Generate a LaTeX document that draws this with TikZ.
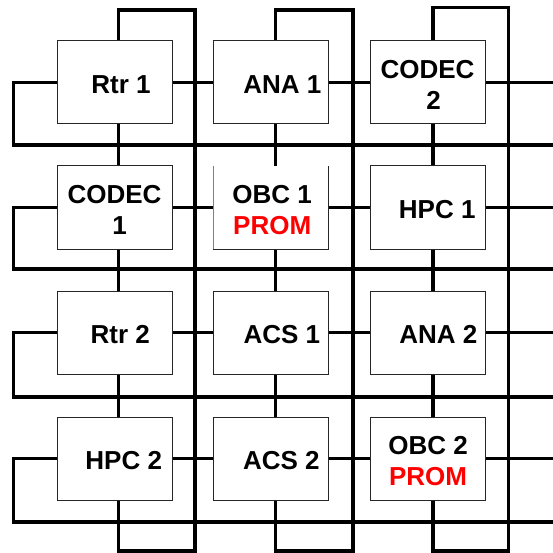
\documentclass[tikz,border=0pt]{standalone}
\usepackage{fontspec}
\setmainfont{Liberation Sans}
\usetikzlibrary{calc}
\pgfdeclarelayer{bg}
\pgfsetlayers{bg,main}
\definecolor{promred}{RGB}{255,0,0}
\begin{document}
\begin{tikzpicture}[x=1pt,y=-1pt,
  wire/.style={line width=3.6pt,line join=miter,draw=black},
  boxnode/.style={rectangle,draw=black!85,line width=1pt,fill=white,
    minimum width=115pt,minimum height=83pt,inner sep=0pt,outer sep=0pt},
  lbl/.style={font=\fontsize{26}{31}\selectfont\bfseries,align=center,
    inner sep=0pt,text=black},
  prom/.style={text=promred}]
\useasboundingbox (0,0) rectangle (553,553);
\begin{pgfonlayer}{bg}
\fill[white] (0,0) rectangle (553,553);
\end{pgfonlayer}

% boxes
\node[boxnode] (b11) at (114.5,82.5) {};
\node[boxnode] (b12) at (270.5,82.5) {};
\node[boxnode] (b13) at (427.5,82.5) {};
\node[boxnode] (b21) at (114.5,207.5) {};
\node[boxnode,draw=none] (b22) at (270.5,207.5) {};
\node[boxnode] (b23) at (427.5,207.5) {};
\node[boxnode] (b31) at (114.5,332.5) {};
\node[boxnode] (b32) at (270.5,332.5) {};
\node[boxnode] (b33) at (427.5,332.5) {};
\node[boxnode] (b41) at (114.5,458.5) {};
\node[boxnode] (b42) at (270.5,458.5) {};
\node[boxnode] (b43) at (427.5,458.5) {};
% OBC 1 frame: no top edge, lighter left edge
\draw[black!50,line width=0.9pt] (b22.north west) -- (b22.south west);
\draw[black!85,line width=1pt] (b22.south west) -- (b22.south east) -- (b22.north east);

% labels
\node[lbl] (t11) at ($(b11.center)+(6.5,2.2)$) {Rtr 1};
\node[lbl] (t12) at ($(b12.center)+(11.8,2.2)$) {ANA 1};
\node[lbl] (t13) at ($(b13.center)+(0,2.2)$) {CODEC\\\hspace*{12pt}2};
\node[lbl] (t21) at ($(b21.center)+(0,2.2)$) {CODEC\\\hspace*{10.4pt}1};
\node[lbl] (t22) at ($(b22.center)+(1.7,2.2)$) {OBC 1\\\textcolor{promred}{PROM}};
\node[lbl] (t23) at ($(b23.center)+(9.7,2.2)$) {HPC 1};
\node[lbl] (t31) at ($(b31.center)+(5.8,2.2)$) {Rtr 2};
\node[lbl] (t32) at ($(b32.center)+(11.3,2.2)$) {ACS 1};
\node[lbl] (t33) at ($(b33.center)+(10.8,2.2)$) {ANA 2};
\node[lbl] (t41) at ($(b41.center)+(9.2,2.2)$) {HPC 2};
\node[lbl] (t42) at ($(b42.center)+(10.8,2.2)$) {ACS 2};
\node[lbl] (t43) at ($(b43.center)+(0.5,2.2)$) {OBC 2\\\textcolor{promred}{PROM}};

% guide coordinates
\coordinate (v1) at (118.5,0);
\coordinate (v2) at (275.5,0);
\coordinate (v3) at (433,0);
\coordinate (w1) at (195,0);
\coordinate (w2) at (353,0);
\coordinate (w3) at (508.5,0);
\coordinate (top1) at (0,10);
\coordinate (top2) at (0,10);
\coordinate (top3) at (0,7.7);
\coordinate (bot) at (0,551.2);
\coordinate (lx) at (13.5,0);
\coordinate (rx) at (553,0);
\coordinate (low1) at (0,145);
\coordinate (low2) at (0,268.7);
\coordinate (low3) at (0,396.7);
\coordinate (low4) at (0,521.7);

\begin{pgfonlayer}{bg}
% columns
\foreach \c in {1,2,3}{
  \draw[wire] (b1\c.north -| v\c) -- (v\c |- top\c) -- (w\c |- top\c)
    -- (w\c |- bot) -- (v\c |- bot) -- (b4\c.south -| v\c);
  \draw[wire] (b1\c.south -| v\c) -- (b2\c.north -| v\c);
  \draw[wire] (b2\c.south -| v\c) -- (b3\c.north -| v\c);
  \draw[wire] (b3\c.south -| v\c) -- (b4\c.north -| v\c);
}
% rows
\foreach \r in {1,2,3,4}{
  \draw[wire] (b\r1.west) -- (lx |- b\r1.west) -- (lx |- low\r) -- (rx |- low\r);
  \draw[wire] (b\r1.east) -- (b\r2.west);
  \draw[wire] (b\r2.east) -- (b\r3.west);
  \draw[wire] (b\r3.east) -- (rx |- b\r3.east);
}
\end{pgfonlayer}
\end{tikzpicture}
\end{document}
